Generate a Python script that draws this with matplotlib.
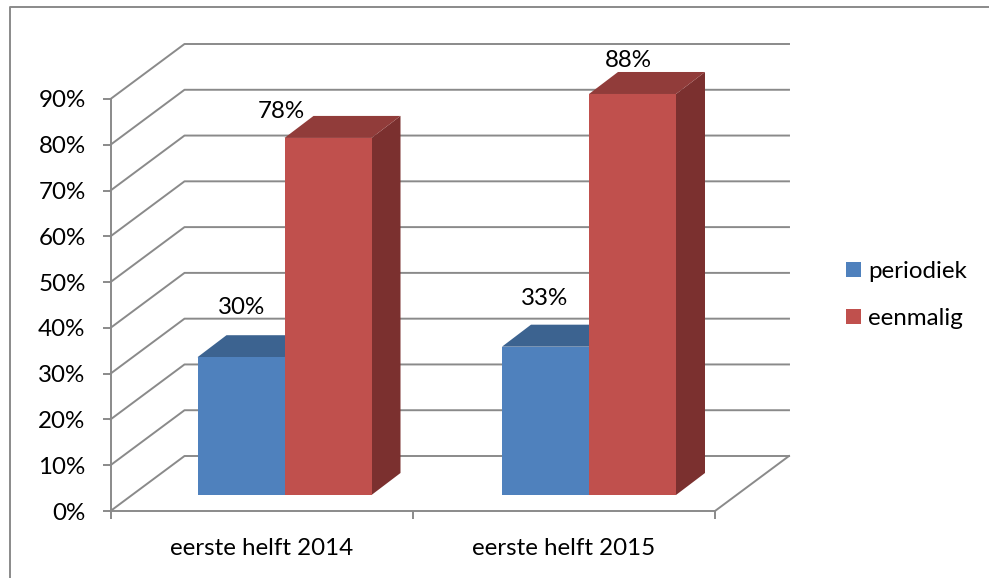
import matplotlib
matplotlib.use('Agg')
import matplotlib.pyplot as plt
from matplotlib.lines import Line2D
from matplotlib.patches import Patch, Polygon

periods = ['eerste helft 2014', 'eerste helft 2015']
periodiek = [30.1, 32.4]
eenmalig = [78.0, 87.6]
periodiek_labels = ['30%', '33%']
eenmalig_labels = ['78%', '88%']
y_ticks = [0, 10, 20, 30, 40, 50, 60, 70, 80, 90]

plt.rcParams['font.family'] = ['Lato', 'DejaVu Sans']
plt.rcParams['font.size'] = 17.4

W, H = 989, 578
GREY = '#8a8a8a'
BLUE, BLUE_TOP, BLUE_SIDE = '#4f81bd', '#3c6390', '#34567d'
RED, RED_TOP, RED_SIDE = '#c0504d', '#913c3a', '#7b302f'

fig = plt.figure(figsize=(W / 100, H / 100), dpi=100)
ax = fig.add_axes([110.5 / W, (H - 511) / H, 604.5 / W, 412 / H])
ax.set_xlim(0, 2)
ax.set_ylim(0, 90)
ax.patch.set_alpha(0)

# one pixel in data units
px = 2 / 604.5
py = 90 / 412

# outer frame, only left and top are visible
fig.add_artist(Line2D([10 / W, 10 / W, 1], [0, 1 - 6.5 / H, 1 - 6.5 / H],
                      color=GREY, lw=1.4, transform=fig.transFigure))

# back wall and floor
wall_dx, wall_dy = 74 * px, 55 * py
for v in y_ticks:
    ax.plot([0, wall_dx, 2 + wall_dx], [v, v + wall_dy, v + wall_dy],
            color=GREY, lw=1.4, clip_on=False, zorder=1)
ax.plot([2, 2 + wall_dx], [0, wall_dy], color=GREY, lw=1.4, clip_on=False, zorder=1)


def draw_bar(left, width, value, front, top, side):
    base = 16 * py
    dx, dy = 29 * px, 22 * py
    right = left + width
    ax.add_patch(Polygon([(right, base), (right + dx, base + dy),
                          (right + dx, value + base + dy), (right, value + base)],
                         fc=side, ec='none', clip_on=False, zorder=3))
    ax.add_patch(Polygon([(left, value + base), (left + dx, value + base + dy),
                          (right + dx, value + base + dy), (right, value + base)],
                         fc=top, ec='none', clip_on=False, zorder=3))
    ax.add_patch(Polygon([(left, base), (right, base),
                          (right, value + base), (left, value + base)],
                         fc=front, ec='none', clip_on=False, zorder=3))


bar_w = 87 * px
label_off_blue = [(1, 50), (-1, 48)]
label_off_red = [(-47, 26), (-4, 33)]
for i in range(len(periods)):
    joint = (174 + i * 304.5) * px
    draw_bar(joint - bar_w, bar_w, periodiek[i], BLUE, BLUE_TOP, BLUE_SIDE)
    draw_bar(joint, bar_w, eenmalig[i], RED, RED_TOP, RED_SIDE)
    ox, oy = label_off_blue[i]
    ax.annotate(periodiek_labels[i], (joint - bar_w / 2, periodiek[i] + 16 * py),
                xytext=(ox * 0.72, oy * 0.72), textcoords='offset points',
                ha='center', va='center', color='black', zorder=5, annotation_clip=False)
    ox, oy = label_off_red[i]
    ax.annotate(eenmalig_labels[i], (joint + bar_w / 2, eenmalig[i] + 16 * py),
                xytext=(ox * 0.72, oy * 0.72), textcoords='offset points',
                ha='center', va='center', color='black', zorder=5, annotation_clip=False)

# axes
for s in ['top', 'right']:
    ax.spines[s].set_visible(False)
for s in ['left', 'bottom']:
    ax.spines[s].set_color(GREY)
    ax.spines[s].set_linewidth(1.4)
ax.set_yticks(y_ticks)
ax.set_yticklabels([f'{v}%' for v in y_ticks])
ax.set_xticks([0, 1, 2])
ax.set_xticklabels([])
ax.set_xticks([0.5, 1.5], minor=True)
ax.set_xticklabels(periods, minor=True)
ax.tick_params(axis='y', length=6, width=1.4, color=GREY, pad=12)
ax.tick_params(axis='x', which='major', length=6, width=1.4, color=GREY)
ax.tick_params(axis='x', which='minor', length=0, pad=19.5)

handles = [Patch(fc=BLUE, ec='none', label='periodiek'),
           Patch(fc=RED, ec='none', label='eenmalig')]
fig.legend(handles=handles, loc='upper left', frameon=False,
           bbox_to_anchor=(846 / W, 1 - 261 / H), borderpad=0, borderaxespad=0,
           handlelength=0.62, handleheight=0.62, handletextpad=0.3, labelspacing=1.08)

fig.savefig('out.png', dpi=100)
